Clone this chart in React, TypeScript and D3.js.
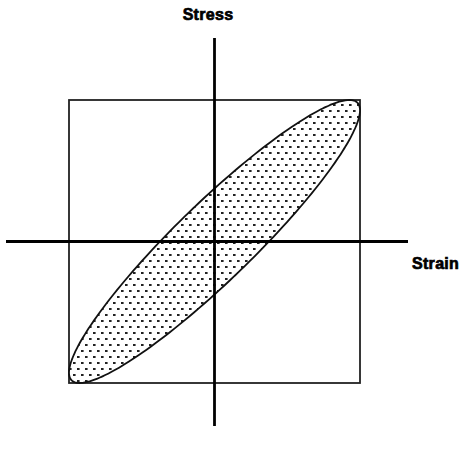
import React from "react";
import * as d3 from "d3";

// Hysteresis loop parameters (normalised strain / stress amplitudes, phase lag)
const strainAmplitude = [1];
const stressAmplitude = [1];
const phaseLagDeg = [22];
const axisLabels = ["Strain", "Stress"];

const W = 465;
const H = 451;

export default function App() {
  const x = d3.scaleLinear().domain([-1, 1]).range([69, 360]);
  const y = d3.scaleLinear().domain([-1, 1]).range([383, 100]);
  const ea = strainAmplitude[0];
  const sa = stressAmplitude[0];
  const phi = (phaseLagDeg[0] * Math.PI) / 180;
  const ts = d3.range(0, 361, 2).map((d) => (d * Math.PI) / 180);
  const pts: [number, number][] = ts.map((t) => [ea * Math.cos(t), sa * Math.cos(t - phi)]);
  const line = d3
    .line<[number, number]>()
    .x((d) => x(d[0]))
    .y((d) => y(d[1]))
    .curve(d3.curveCardinalClosed);
  const path = line(pts.slice(0, -1)) || "";
  const cx = x(0);
  const cy = y(0);
  const labelStyle = {
    fontFamily: "Liberation Sans, Arial, sans-serif",
    fontWeight: "bold" as const,
    fontSize: 16,
  };
  return (
    <svg
      width={W}
      height={H}
      style={{ position: "absolute", left: 0, top: 0, background: "#fff" }}
    >
      <defs>
        <pattern id="dots" width={8} height={12} patternUnits="userSpaceOnUse">
          <rect width={8} height={12} fill="#fff" />
          <rect x={1} y={2} width={2.6} height={2} fill="#222" />
          <rect x={5} y={8} width={2.6} height={2} fill="#222" />
        </pattern>
      </defs>
      <rect
        x={x(-1)}
        y={y(1)}
        width={x(1) - x(-1)}
        height={y(-1) - y(1)}
        fill="none"
        stroke="#222"
        strokeWidth={1.8}
      />
      <path d={path} fill="url(#dots)" stroke="#111" strokeWidth={1.8} />
      <line x1={6} x2={408} y1={cy} y2={cy} stroke="#000" strokeWidth={2.8} />
      <line x1={cx} x2={cx} y1={38} y2={426} stroke="#000" strokeWidth={2.8} />
      <text
        x={208}
        y={20}
        textAnchor="middle"
        {...labelStyle}
        fill="#000"
        stroke="#000"
        strokeWidth={0.7}
        letterSpacing={0.3}
      >
        {axisLabels[1]}
      </text>
      <text
        x={412}
        y={269}
        textAnchor="start"
        {...labelStyle}
        fill="#000"
        stroke="#000"
        strokeWidth={0.7}
        letterSpacing={0.3}
      >
        {axisLabels[0]}
      </text>
    </svg>
  );
}
